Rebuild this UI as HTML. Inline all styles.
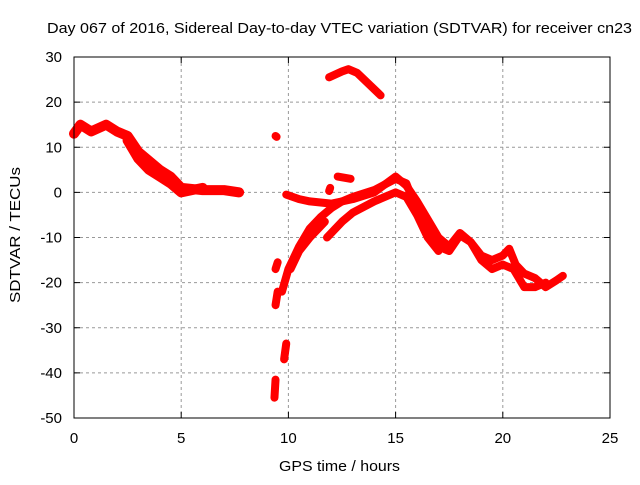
<!DOCTYPE html>
<html><head><meta charset="utf-8"><style>
body{margin:0;background:#fff;font-family:"Liberation Sans",sans-serif}
svg text{font-family:"Liberation Sans",sans-serif;font-size:15px;fill:#000}
</style></head><body>
<svg id="chart" width="640" height="480" xmlns="http://www.w3.org/2000/svg">
<rect width="640" height="480" fill="#fff"/>
<g id="grid"></g>
<g id="series"></g>
<rect x="74" y="57" width="536" height="361" fill="none" stroke="#000" stroke-width="1"/>
<g id="ticks"></g>
<text x="47" y="33" textLength="585" lengthAdjust="spacingAndGlyphs">Day 067 of 2016, Sidereal Day-to-day VTEC variation (SDTVAR) for receiver cn23</text>
<text x="279" y="471" textLength="121" lengthAdjust="spacingAndGlyphs">GPS time / hours</text>
<text transform="translate(20,303) rotate(-90)" textLength="136" lengthAdjust="spacingAndGlyphs">SDTVAR / TECUs</text>
</svg>
<script>
const xTicks=[0,5,10,15,20,25];
const yTicks=[30,20,10,0,-10,-20,-30,-40,-50];
const seriesA=[[0,13],[0.3,15],[0.8,13.5],[1.5,15],[2,13.5],[2.5,12.5],[3,9],[3.5,7],[4,5],[4.5,3.5],[5,1],[6,0.5],[7,0.5],[7.7,0]];
const seriesA2=[[2.5,11.5],[3,7.5],[3.5,5],[4,3.5],[4.5,2],[5,0],[5.5,0.5],[6,1]];
const seriesB=[[9.9,-0.5],[10.5,-1.5],[11,-2],[12,-2.5],[13,-1.5],[14,0],[15,3.5],[15.5,1.5],[16,-2],[16.5,-6],[17,-10],[17.5,-12],[18,-9],[18.5,-11],[19,-14],[19.5,-15],[20,-14],[20.3,-12.5],[20.6,-16],[21,-18],[21.5,-19],[22,-21],[22.5,-19.5],[22.8,-18.5]];
const seriesC=[[9.7,-22],[10,-17],[10.5,-12],[11,-8],[11.5,-5.5],[12,-3.5],[12.5,-2],[13,-1],[14,0.5],[15,3],[15.5,2],[16,-4],[16.5,-8],[17,-12],[17.5,-13],[18,-9.5],[18.5,-11],[19,-15],[19.5,-17],[20,-16],[20.5,-17],[21,-21],[21.5,-21],[22,-20]];
const seriesD=[[10.1,-17],[10.5,-13],[11,-10],[11.7,-6.5]];
const seriesE=[[11.8,-10],[12.5,-6.5],[13,-4.5],[14,-2],[15,0],[15.5,-1],[16,-5],[16.5,-10],[17,-13]];
const seriesTop=[[11.9,25.5],[12.5,26.8],[12.8,27.3],[13.2,26.5],[14.3,21.5]];
const blobs=[[[9.4,12.5],[9.45,12.3]],[[9.4,-25],[9.5,-22]],[[9.4,-17],[9.5,-15.5]],[[9.8,-37],[9.9,-33.5]],[[9.35,-45.5],[9.4,-41.5]],[[12.3,3.5],[12.9,3]],[[11.9,0.3],[11.95,1]]];
const allSeries=[seriesA,seriesA2,seriesB,seriesC,seriesD,seriesE,seriesTop,...blobs];
const X=h=>74+h*536/25, Y=v=>57+(30-v)*361/80;
const NS="http://www.w3.org/2000/svg";
const grid=document.getElementById('grid'),ticks=document.getElementById('ticks'),ser=document.getElementById('series');
function mk(tag,attrs,parent){const e=document.createElementNS(NS,tag);for(const k in attrs)e.setAttribute(k,attrs[k]);parent.appendChild(e);return e;}
xTicks.forEach(t=>{
  if(t>0&&t<25){const g=mk('line',{x1:X(t),x2:X(t),y1:57,y2:418,stroke:'#999','stroke-dasharray':'3,3'},grid);
  
  }
  const l=mk('text',{x:X(t),y:443,'text-anchor':'middle'},ticks);l.textContent=t;
  
  
  mk('line',{x1:X(t),x2:X(t),y1:418,y2:412,stroke:'#000'},ticks);mk('line',{x1:X(t),x2:X(t),y1:57,y2:63,stroke:'#000'},ticks);
});
yTicks.forEach(t=>{
  if(t<30&&t>-50){const g=mk('line',{x1:74,x2:610,y1:Y(t),y2:Y(t),stroke:'#999','stroke-dasharray':'3,3'},grid);
  
  }
  const l=mk('text',{x:62,y:Y(t)+5,'text-anchor':'end'},ticks);l.textContent=t;
  
  
  mk('line',{x1:74,x2:80,y1:Y(t),y2:Y(t),stroke:'#000'},ticks);mk('line',{x1:610,x2:604,y1:Y(t),y2:Y(t),stroke:'#000'},ticks);
});
allSeries.forEach((s,i)=>{
  const w=(i<2)?10:8;
  const p=mk('polyline',{points:s.map(d=>X(d[0])+','+Y(d[1])).join(' '),fill:'none',stroke:'#f00','stroke-width':w,'stroke-linejoin':'round','stroke-linecap':'round'},ser);
  
  
});
</script>
</body></html>
